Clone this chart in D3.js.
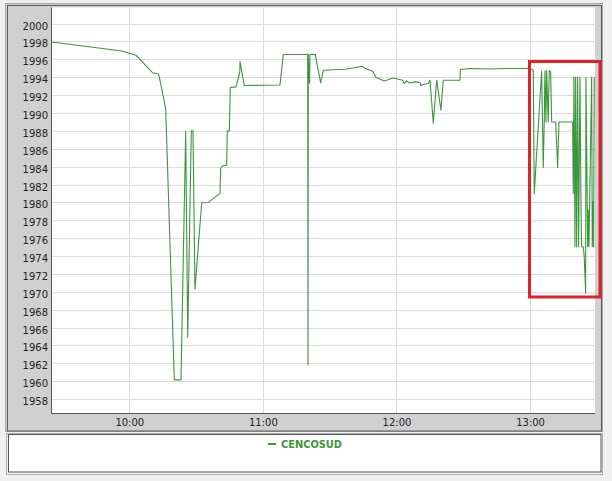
<!DOCTYPE html>
<html>
<head>
<meta charset="utf-8">
<script src="https://cdn.jsdelivr.net/npm/d3@7"></script>
<style>
  html, body { margin: 0; padding: 0; background: #f0f0f0; }
  svg { display: block; }
  text { font-family: "DejaVu Sans", sans-serif; }
</style>
</head>
<body>
<svg id="chart" width="612" height="481"></svg>
<script>
// ---- data ----
const seriesName = "CENCOSUD";
const times = [
  "09:25:17","09:56:35","10:03:01","10:10:31","10:13:01","10:13:28","10:16:21","10:20:13","10:23:13","10:25:20",
  "10:26:14","10:27:51","10:28:36","10:29:30","10:32:31","10:35:29","10:40:44","10:41:03","10:41:57","10:43:45",
  "10:44:01","10:44:55","10:45:22","10:47:55","10:49:38","10:49:43","10:51:39","11:07:41","11:09:10","11:20:07",
  "11:20:15","11:20:23","11:20:56","11:21:09","11:23:32","11:25:57","11:27:07","11:37:11","11:44:38","11:45:32",
  "11:49:19","11:50:48","11:54:31","11:58:34","12:02:47","12:03:30","12:04:35","12:05:45","12:08:18","12:10:33",
  "12:11:00","12:11:46","12:14:17","12:15:03","12:16:32","12:18:03","12:19:59","12:21:01","12:28:31","12:28:39",
  "12:33:00","12:41:59","12:49:29","12:58:28","13:00:43","13:01:26","13:01:53","13:05:12","13:05:55","13:06:22",
  "13:06:41","13:07:08","13:07:27","13:08:10","13:08:37","13:09:15","13:09:42","13:11:30","13:12:23","13:12:59",
  "13:19:08","13:19:24","13:19:43","13:20:10","13:20:29","13:20:56","13:21:22","13:21:49","13:22:25","13:22:52",
  "13:23:10","13:23:53","13:24:20","13:24:58","13:25:06","13:25:52","13:26:08","13:26:27","13:27:40","13:27:56",
  "13:28:20","13:28:32","13:28:50"
];
const prices = [
  1997.94,1996.94,1996.46,1994.48,1994.37,1994.03,1990.50,1960.16,1960.16,1987.97,
  1964.92,1988.00,1988.00,1970.29,1979.96,1980.00,1981.01,1983.80,1984.10,1984.17,
  1988.00,1988.00,1992.85,1992.92,1994.56,1995.79,1993.07,1993.14,1996.54,1996.54,
  1961.83,1996.54,1993.33,1996.54,1996.54,1993.36,1994.78,1994.90,1995.23,1995.04,
  1994.67,1993.97,1993.59,1993.92,1993.67,1993.30,1993.59,1993.36,1993.48,1993.41,
  1993.03,1993.19,1993.30,1993.67,1988.90,1993.67,1990.31,1993.67,1993.67,1994.86,
  1994.97,1994.93,1994.97,1994.97,1994.90,1994.78,1981.01,1994.70,1983.91,1989.00,
  1994.70,1989.00,1994.78,1989.00,1994.78,1994.60,1989.00,1989.00,1983.91,1989.00,
  1989.00,1981.01,1994.03,1975.05,1994.03,1975.05,1994.03,1975.05,1994.03,1979.90,
  1975.05,1975.05,1973.93,1969.84,1994.03,1975.05,1979.14,1975.05,1994.03,1975.05,
  1980.07,1975.05,1994.03
];
const yTicks = [1958,1960,1962,1964,1966,1968,1970,1972,1974,1976,1978,1980,1982,1984,1986,1988,1990,1992,1994,1996,1998,2000];
const xTickLabels = ["10:00","11:00","12:00","13:00"];
const xDomainEnd = "13:29:10";
const yDomain = [1956.45, 2001.8];

// ---- layout ----
const svg = d3.select("#chart");
const plot = { left: 52, top: 7.5, right: 595, bottom: 413 };

// outer gray panel
svg.append("rect").attr("x", 5.5).attr("y", 3.5).attr("width", 597).attr("height", 428)
  .attr("fill", "#d0d0d0").attr("stroke", "#a8a8a8");
svg.append("rect").attr("x", 7.5).attr("y", 5.5).attr("width", 594).attr("height", 425.5)
  .attr("fill", "none").attr("stroke", "#5a5a5a");

// plot background
svg.append("rect").attr("x", plot.left).attr("y", plot.top)
  .attr("width", plot.right - plot.left).attr("height", plot.bottom - plot.top)
  .attr("fill", "#ffffff");

const parse = d3.timeParse("%H:%M:%S");
const data = times.map((t, i) => ({ t: parse(t), v: prices[i] }));

const x = d3.scaleTime().domain([data[0].t, parse(xDomainEnd)]).range([plot.left, plot.right]);
const y = d3.scaleLinear().domain(yDomain).range([plot.bottom, plot.top]);

const xTicks = xTickLabels.map(s => d3.timeParse("%H:%M")(s));

// grid
const grid = svg.append("g");
grid.selectAll("line.h").data(yTicks).join("line")
  .attr("x1", plot.left).attr("x2", plot.right)
  .attr("y1", d => Math.round(y(d)) + 0.5).attr("y2", d => Math.round(y(d)) + 0.5)
  .attr("stroke", "#dcdcdc").attr("stroke-width", 1);
grid.selectAll("line.v").data(xTicks).join("line")
  .attr("y1", plot.top).attr("y2", plot.bottom)
  .attr("x1", d => Math.round(x(d)) + 0.5).attr("x2", d => Math.round(x(d)) + 0.5)
  .attr("stroke", "#dcdcdc").attr("stroke-width", 1);

// axes
const yAxis = d3.axisLeft(y).tickValues(yTicks).tickSize(0).tickPadding(4).tickFormat(d3.format("d"));
const gy = svg.append("g").attr("transform", `translate(${plot.left},0)`).call(yAxis);
gy.select(".domain").remove();
gy.selectAll("text").attr("font-size", 10).attr("fill", "#222").attr("dy", "0.55em")
  .style("font-family", "DejaVu Sans, sans-serif");

const xAxis = d3.axisBottom(x).tickValues(xTicks).tickSize(0).tickPadding(6).tickFormat(d3.timeFormat("%H:%M"));
const gx = svg.append("g").attr("transform", `translate(0,${plot.bottom})`).call(xAxis);
gx.select(".domain").remove();
gx.selectAll("text").attr("font-size", 10).attr("fill", "#222")
  .style("font-family", "DejaVu Sans, sans-serif");

// plot borders (left and bottom)
svg.append("line").attr("x1", plot.left - 0.5).attr("x2", plot.left - 0.5)
  .attr("y1", plot.top).attr("y2", plot.bottom + 0.5).attr("stroke", "#555");
svg.append("line").attr("x1", plot.left - 0.5).attr("x2", plot.right)
  .attr("y1", plot.bottom + 0.5).attr("y2", plot.bottom + 0.5).attr("stroke", "#555");

// series line
const line = d3.line().x(d => x(d.t)).y(d => y(d.v));
svg.append("path").datum(data).attr("d", line)
  .attr("fill", "none").attr("stroke", "#3c963c").attr("stroke-width", 1.1)
  .attr("stroke-linejoin", "round");

// legend box
svg.append("rect").attr("x", 6.5).attr("y", 433.5).attr("width", 596).attr("height", 41)
  .attr("fill", "none").attr("stroke", "#b0b0b0");
svg.append("rect").attr("x", 8.5).attr("y", 434.5).attr("width", 592.5).attr("height", 37.5)
  .attr("fill", "#ffffff").attr("stroke", "#555");
const lg = svg.append("g").attr("transform", "translate(268,444)");
lg.append("line").attr("x1", 0).attr("x2", 8).attr("y1", 0).attr("y2", 0)
  .attr("stroke", "#3c963c").attr("stroke-width", 2);
lg.append("text").attr("x", 13).attr("y", 0).attr("dy", "0.36em")
  .attr("font-size", 10).attr("font-weight", "bold").attr("fill", "#3c963c")
  .attr("textLength", 61).attr("lengthAdjust", "spacingAndGlyphs")
  .text(seriesName);

// red highlight box annotation
svg.append("rect").attr("x", 529.5).attr("y", 61.5).attr("width", 70.5).attr("height", 235.5)
  .attr("fill", "none").attr("stroke", "#e0222b").attr("stroke-width", 3);
</script>
</body>
</html>
